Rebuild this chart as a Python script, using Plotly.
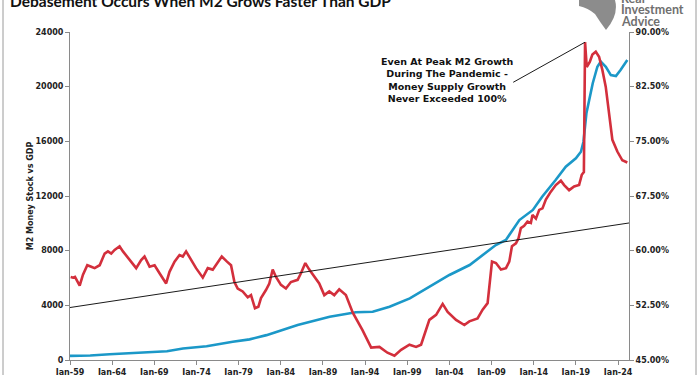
import plotly.graph_objects as go
import pandas as pd

# ---- Data ----
m2_years = [1959.0, 1961.4, 1963.7, 1966.5, 1970.5, 1972.4, 1975.2, 1978.3, 1980.3, 1982.3,
            1984.2, 1986.0, 1989.8, 1992.9, 1994.9, 1996.9, 1999.3, 2001.6, 2004.0, 2006.4,
            2008.3, 2009.5, 2010.7, 2011.5, 2012.3, 2013.9, 2015.0, 2016.6, 2017.8, 2019.0,
            2019.6, 2019.9, 2020.25, 2021.0, 2021.55, 2021.95, 2022.55, 2023.15, 2023.75, 2024.3, 2025.1]
m2_values = [300, 330, 420, 520, 640, 840, 1010, 1330, 1510, 1820,
             2190, 2560, 3170, 3490, 3530, 3900, 4510, 5360, 6220, 6950,
             7810, 8410, 8780, 9510, 10240, 10980, 11950, 13170, 14140, 14760,
             15240, 15970, 18050, 20250, 21460, 21830, 21460, 20850, 20780, 21220, 21950]

ratio_years = [1959.08, 1959.36, 1959.59, 1960.15, 1960.54, 1961.05, 1961.52, 1961.92, 1962.52, 1963.11,
               1963.50, 1963.89, 1964.29, 1964.88, 1965.28, 1966.07, 1966.85, 1967.44, 1967.84, 1968.44,
               1969.03, 1969.62, 1970.40, 1970.80, 1971.40, 1971.99, 1972.38, 1972.77, 1973.36, 1973.95,
               1974.75, 1975.34, 1975.93, 1976.52, 1977.00, 1977.62, 1978.10, 1978.50, 1978.89, 1979.48,
               1980.08, 1980.47, 1980.94, 1981.34, 1981.65, 1982.24, 1982.64, 1983.04, 1983.43, 1984.02,
               1984.61, 1985.20, 1986.00, 1986.39, 1986.91, 1987.38, 1987.97, 1988.56, 1989.16, 1989.75,
               1990.34, 1990.93, 1991.72, 1992.54, 1993.69, 1994.72, 1995.70, 1996.65, 1997.48, 1998.27,
               1999.26, 2000.05, 2000.64, 2001.62, 2002.42, 2003.20, 2003.79, 2004.79, 2005.77, 2006.36,
               2007.34, 2007.94, 2008.53, 2009.05, 2009.52, 2010.11, 2010.71, 2011.10, 2011.42, 2011.89,
               2012.20, 2012.48, 2012.87, 2013.26, 2013.66, 2013.85, 2014.26, 2014.65, 2015.04, 2015.44,
               2016.03, 2016.62, 2017.22, 2017.61, 2018.20, 2018.79, 2019.38, 2019.70, 2019.95, 2020.09,
               2020.29, 2020.65, 2020.96, 2021.36, 2021.75, 2022.14, 2022.54, 2022.94, 2023.33, 2023.92,
               2024.51, 2025.10]
ratio_values = [56.4, 56.3, 56.4, 55.2, 56.7, 58.0, 57.8, 57.6, 58.0, 59.6,
                59.9, 59.6, 60.1, 60.6, 59.9, 58.7, 57.6, 58.7, 59.2, 57.8,
                58.0, 56.9, 55.5, 57.1, 58.5, 59.4, 59.2, 59.9, 58.7, 57.6,
                56.3, 57.6, 57.4, 58.3, 59.2, 58.5, 58.0, 55.7, 54.8, 54.4,
                53.6, 53.9, 52.1, 52.3, 53.5, 54.6, 55.5, 57.4, 56.4, 55.3,
                54.8, 55.7, 56.0, 56.9, 58.3, 57.4, 56.4, 55.5, 53.9, 54.4,
                53.9, 54.7, 53.9, 51.5, 49.1, 46.7, 46.8, 46.0, 45.6, 46.4,
                47.1, 46.8, 47.1, 50.5, 51.2, 52.7, 51.6, 50.5, 49.8, 50.3,
                50.7, 51.9, 52.8, 58.5, 58.3, 57.4, 57.6, 58.5, 60.6, 61.0,
                61.7, 63.1, 63.4, 64.0, 63.8, 64.9, 64.4, 65.6, 65.8, 67.0,
                68.1, 69.0, 69.6, 69.0, 68.3, 68.8, 69.0, 70.4, 70.8, 88.6,
                85.2, 85.9, 86.9, 87.3, 86.6, 84.8, 82.5, 78.4, 75.2, 73.6,
                72.4, 72.1]

trend_years = [1959.0, 2025.3]
trend_values = [52.2, 63.8]

x_range = [1959.0, 2025.3]
left_ticks = [0, 4000, 8000, 12000, 16000, 20000, 24000]

title_text = "Debasement Occurs When M2 Grows Faster Than GDP"
note_text = "Even At Peak M2 Growth<br>During The Pandemic -<br>Money Supply Growth<br>Never Exceeded 100%"
y1_title = "M2 Money Stock vs GDP"
logo_lines = ["Real", "Investment", "Advice"]


def to_date(y):
    year = int(y)
    days = (y - year) * 365.25
    return pd.Timestamp(year=year, month=1, day=1) + pd.Timedelta(days=days)


RED = "#d32f3c"
BLUE = "#1b98c8"
TICKFONT = dict(family="DejaVu Sans", size=8, color="#222222", weight="bold")

fig = go.Figure()
fig.add_trace(go.Scatter(x=[to_date(v) for v in m2_years], y=m2_values, mode="lines",
                         line=dict(color=BLUE, width=2.6), yaxis="y", showlegend=False))
fig.add_trace(go.Scatter(x=[to_date(v) for v in ratio_years], y=ratio_values, mode="lines",
                         line=dict(color=RED, width=2.6), yaxis="y2", showlegend=False))
fig.add_trace(go.Scatter(x=[to_date(v) for v in trend_years], y=trend_values, mode="lines",
                         line=dict(color="#1a1a1a", width=1), yaxis="y2", showlegend=False))

# leader line from note to the pandemic peak
peak_i = max(range(len(ratio_values)), key=lambda i: ratio_values[i])
fig.add_shape(type="line", xref="x", yref="y2",
              x0=to_date(2011.57), y0=83.1,
              x1=to_date(ratio_years[peak_i]), y1=ratio_values[peak_i],
              line=dict(color="#1a1a1a", width=1))

W, H = 700, 375
L, R, T, B = 70, 71, 32, 15
pw, ph = W - L - R, H - T - B


def px(x):
    return (x - L) / pw


def py(y):
    return (H - B - y) / ph


fig.add_annotation(xref="paper", yref="paper", x=px(447), y=py(80), text=note_text,
                   showarrow=False, xanchor="center", yanchor="middle", align="center",
                   font=dict(family="DejaVu Sans", size=9.5, color="#111111", weight="bold"))

fig.add_annotation(xref="paper", yref="paper", x=px(8), y=py(1), text=title_text,
                   showarrow=False, xanchor="left", yanchor="middle",
                   font=dict(family="Lato", size=15.5, color="#111111", weight="bold"))

for line, yy in zip(logo_lines, (-1.5, 10, 21.5)):
    fig.add_annotation(xref="paper", yref="paper", x=px(619), y=py(yy), text=line,
                       showarrow=False, xanchor="left", yanchor="middle", align="left",
                       font=dict(family="Lato", size=12.5, color="#707070", weight="bold"))

# logo mark (approximate)
fig.add_shape(type="path", xref="paper", yref="paper",
              path=f"M {px(579)},{py(0)} L {px(615)},{py(0)} Q {px(619)},{py(15)} {px(606)},{py(30)} "
                   f"Q {px(600)},{py(22)} {px(595)},{py(14)} Q {px(588)},{py(8)} {px(579)},{py(6)} Z",
              fillcolor="#8c8c8c", line=dict(width=0))

# chart frame lines
for xx in (3, 696):
    fig.add_shape(type="line", xref="paper", yref="paper", x0=px(xx), x1=px(xx), y0=py(-5), y1=py(380),
                  line=dict(color="#9a9a9a", width=1))

AX = dict(showgrid=False, zeroline=False, showline=True, linecolor="#8a8a8a", linewidth=1,
          ticks="outside", ticklen=4, tickcolor="#8a8a8a", tickfont=TICKFONT, automargin=False)

fig.update_layout(
    width=W, height=H,
    margin=dict(l=L, r=R, t=T, b=B, autoexpand=False),
    paper_bgcolor="white", plot_bgcolor="white",
    xaxis=dict(type="date", range=[to_date(x_range[0]), to_date(x_range[1])],
               tick0="1959-01-01", dtick="M60", tickformat="%b-%y", **AX),
    yaxis=dict(range=[0, 24000], tickvals=left_ticks, tickformat=".0f",
               title=dict(text=y1_title, font=dict(family="DejaVu Sans", size=8, color="#222222", weight="bold"),
                          standoff=0), **AX),
    yaxis2=dict(range=[45, 90], dtick=7.5, tick0=45, tickformat=".2f", ticksuffix="%",
                overlaying="y", side="right", **AX),
)

fig.write_html("out.html", config={"displayModeBar": False},
               post_script="document.body.style.margin='0';document.body.style.overflow='hidden';")
